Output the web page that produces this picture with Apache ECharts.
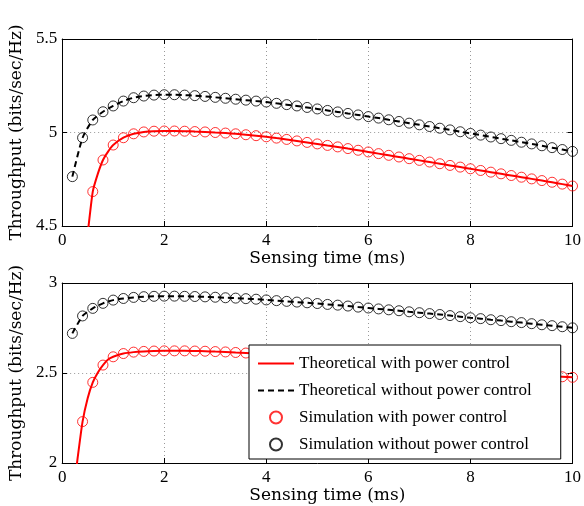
<!DOCTYPE html>
<html>
<head>
<meta charset="utf-8">
<script src="https://cdn.jsdelivr.net/npm/echarts@6/dist/echarts.min.js"></script>
<style>html,body{margin:0;padding:0;background:#fff}#c{width:584px;height:506px}</style>
</head>
<body>
<div id="c"></div>
<script>
// Sensing time samples (ms)
const xs = [0.2,0.4,0.6,0.8,1.0,1.2,1.4,1.6,1.8,2.0,2.2,2.4,2.6,2.8,3.0,3.2,3.4,3.6,3.8,4.0,
            4.2,4.4,4.6,4.8,5.0,5.2,5.4,5.6,5.8,6.0,6.2,6.4,6.6,6.8,7.0,7.2,7.4,7.6,7.8,8.0,
            8.2,8.4,8.6,8.8,9.0,9.2,9.4,9.6,9.8,10.0];

// Top panel
const topWithout = [4.764,4.972,5.067,5.111,5.142,5.168,5.186,5.195,5.200,5.202,5.202,5.200,5.197,5.193,5.188,5.183,5.178,5.173,5.168,5.163,
                    5.156,5.149,5.142,5.134,5.126,5.118,5.110,5.102,5.094,5.085,5.077,5.068,5.059,5.050,5.041,5.032,5.023,5.014,5.004,4.995,
                    4.986,4.976,4.967,4.958,4.948,4.939,4.929,4.919,4.909,4.899];
const topWith = [null,null,4.684,4.853,4.933,4.972,4.993,5.003,5.007,5.008,5.008,5.007,5.005,5.003,5.000,4.997,4.993,4.988,4.983,4.977,
                 4.970,4.963,4.955,4.947,4.939,4.931,4.923,4.914,4.905,4.896,4.887,4.878,4.869,4.860,4.851,4.842,4.833,4.824,4.815,4.806,
                 4.797,4.788,4.779,4.770,4.761,4.752,4.743,4.734,4.724,4.714];
const topWithLineExtraX = [0.45,0.5,0.7,0.9];
const topWithLineExtraY = [4.38,4.46,4.78,4.898];

// Bottom panel
const botWithout = [2.720,2.817,2.859,2.887,2.905,2.914,2.920,2.924,2.926,2.927,2.927,2.926,2.925,2.923,2.921,2.918,2.916,2.913,2.910,2.906,
                    2.902,2.898,2.894,2.890,2.886,2.881,2.877,2.872,2.866,2.861,2.856,2.851,2.846,2.840,2.835,2.830,2.825,2.819,2.813,2.807,
                    2.802,2.796,2.791,2.785,2.780,2.774,2.768,2.763,2.757,2.751];
const botWith = [null,2.230,2.448,2.544,2.590,2.608,2.616,2.620,2.622,2.623,2.623,2.623,2.622,2.621,2.619,2.617,2.614,2.611,2.608,2.604,
                 2.600,2.596,2.592,2.588,2.584,2.580,2.576,2.571,2.567,2.563,2.558,2.554,2.549,2.545,2.540,2.536,2.531,2.526,2.522,2.517,
                 2.512,2.508,2.503,2.498,2.494,2.489,2.485,2.482,2.479,2.476];
const botWithLineExtraX = [0.25,0.3,0.5,0.7,0.9];
const botWithLineExtraY = [1.90,2.02,2.36,2.503,2.575];

const xTicks = [0,2,4,6,8,10];
const topYRange = [4.5, 5.5];
const botYRange = [2, 3];

const names = ['Theoretical with power control','Theoretical without power control',
               'Simulation with power control','Simulation without power control'];

function pairs(x, y){ const out=[]; x.forEach((v,i)=>{ if(y[i]!==null) out.push([v,y[i]]); }); return out; }
function merged(x, y, ex, ey){ return pairs(x,y).concat(pairs(ex,ey)).sort((a,b)=>a[0]-b[0]); }

const tickFont = {fontFamily:'Liberation Serif', fontSize:17, color:'#000'};
const nameFont = {fontFamily:'DejaVu Serif', fontSize:17, color:'#000'};
const gridLine = {show:true, lineStyle:{color:'#999', type:[1,3], width:1}};
const axLine = {show:true, onZero:false, lineStyle:{color:'#000', width:1}};
const tick = {show:true, inside:true, length:5, lineStyle:{color:'#000'}};

function xMain(g){ return {type:'value', gridIndex:g, min:xTicks[0], max:xTicks[xTicks.length-1], interval:2,
  axisLine:axLine, axisTick:tick, axisLabel:Object.assign({margin:6}, tickFont), splitLine:gridLine,
  name:'Sensing time (ms)', nameLocation:'middle', nameGap:24, nameTextStyle:Object.assign({padding:[0,0,0,20]}, nameFont)}; }
function xTop(g){ return {type:'value', gridIndex:g, position:'top', min:xTicks[0], max:xTicks[xTicks.length-1], interval:2,
  axisLine:axLine, axisTick:tick, axisLabel:{show:false}, splitLine:{show:false}}; }
function yMain(g, r){ return {type:'value', gridIndex:g, min:r[0], max:r[1], interval:0.5,
  axisLine:axLine, axisTick:tick, axisLabel:Object.assign({margin:5}, tickFont), splitLine:gridLine,
  name:'Throughput (bits/sec/Hz)', nameLocation:'middle', nameGap:25, nameTextStyle:nameFont}; }
function yRight(g, r){ return {type:'value', gridIndex:g, position:'right', min:r[0], max:r[1], interval:0.5,
  axisLine:axLine, axisTick:tick, axisLabel:{show:false}, splitLine:{show:false}}; }

function lineS(name, data, xi, yi, color, dashed){
  return {name, type:'line', xAxisIndex:xi, yAxisIndex:yi, data, symbol:'none', showSymbol:false, smooth:0.2,
    lineStyle:{color, width:2, type: dashed ? [6,4] : 'solid'}, itemStyle:{color}, z:2, animation:false};
}
function scatS(name, data, xi, yi, color){
  return {name, type:'scatter', xAxisIndex:xi, yAxisIndex:yi, data, symbol:'circle', symbolSize:10,
    itemStyle:{color:'rgba(0,0,0,0)', borderColor:color, borderWidth:1}, z:3, animation:false};
}

const hidden = {color:'rgba(0,0,0,0)', borderColor:'rgba(0,0,0,0)', borderWidth:0, opacity:0};
const option = {
  animation:false,
  backgroundColor:'#fff',
  grid:[{left:59, right:10, top:39, height:187}, {left:59, right:10, top:283, height:180}],
  xAxis:[xMain(0), xTop(0), xMain(1), xTop(1)],
  yAxis:[yMain(0, topYRange), yRight(0, topYRange), yMain(1, botYRange), yRight(1, botYRange)],
  legend:{orient:'vertical', left:249, top:345,
    data:[{name:names[0], itemStyle:hidden}, {name:names[1], itemStyle:hidden}, {name:names[2]}, {name:names[3]}],
    backgroundColor:'#fff', borderColor:'#000', borderWidth:1,
    padding:[10,29,6,8], itemGap:10, itemWidth:36, itemHeight:12, textStyle:{fontFamily:'Liberation Serif', fontSize:17, color:'#000'},
    selectedMode:false},
  series:[
    lineS(names[0], merged(xs, topWith, topWithLineExtraX, topWithLineExtraY), 0, 0, '#ff0000', false),
    lineS(names[1], pairs(xs, topWithout), 0, 0, '#000000', true),
    scatS(names[2], pairs(xs, topWith), 0, 0, '#ff0000'),
    scatS(names[3], pairs(xs, topWithout), 0, 0, '#000000'),
    lineS(names[0], merged(xs, botWith, botWithLineExtraX, botWithLineExtraY), 2, 2, '#ff0000', false),
    lineS(names[1], pairs(xs, botWithout), 2, 2, '#000000', true),
    scatS(names[2], pairs(xs, botWith), 2, 2, '#ff0000'),
    scatS(names[3], pairs(xs, botWithout), 2, 2, '#000000')
  ]
};
const chart = echarts.init(document.getElementById('c'), null, {renderer:'canvas'});
chart.setOption(option);
</script>
</body>
</html>
